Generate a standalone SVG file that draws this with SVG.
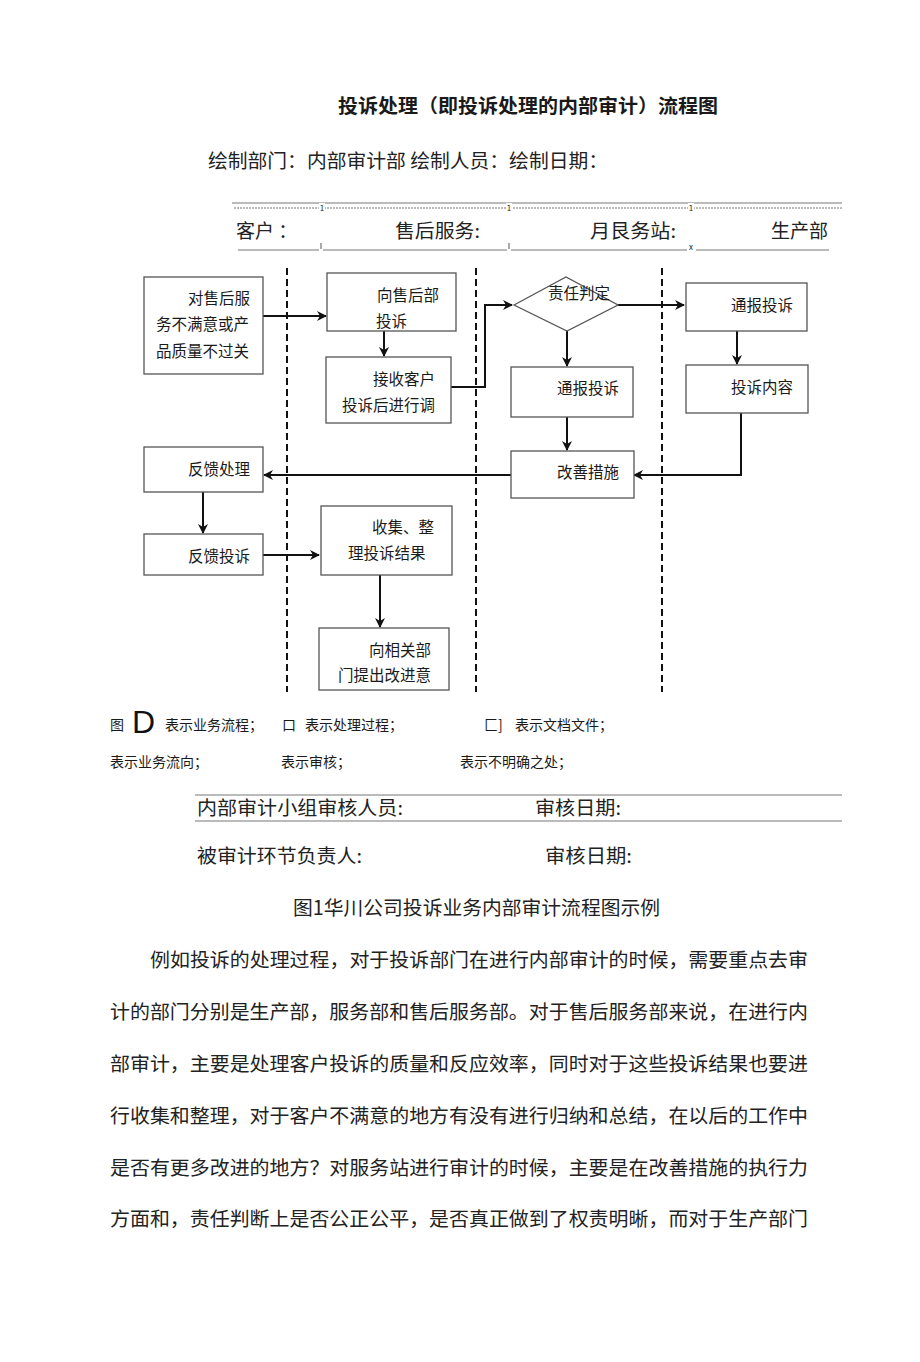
<svg xmlns="http://www.w3.org/2000/svg" width="920" height="1362" viewBox="0 0 920 1362">
<defs>
<style>
.t{font-family:"Noto Sans CJK SC","Liberation Sans",sans-serif;fill:#1a1a1a}
.s{font-family:"Noto Sans CJK SC","Liberation Serif",serif;fill:#222}
.b{font-size:15.5px}
.box{fill:#fff;stroke:#555;stroke-width:1.3}
.lane{stroke:#111;stroke-width:2;stroke-dasharray:7 4;fill:none}
.c{stroke:#111;stroke-width:2;fill:none;marker-end:url(#ah)}
.rule{stroke:#777;stroke-width:1}
.p{font-size:19.5px}
</style>
<marker id="ah" markerWidth="10" markerHeight="10" refX="9" refY="5" orient="auto" markerUnits="userSpaceOnUse">
<path d="M0,0 L10,5 L0,10 L3,5 Z" fill="#111"/>
</marker>
</defs>
<rect width="920" height="1362" fill="#fff"/>

<!-- Title -->
<text class="t" x="338" y="113" font-size="19" font-weight="bold" textLength="380" lengthAdjust="spacingAndGlyphs">投诉处理（即投诉处理的内部审计）流程图</text>
<text class="s" x="208" y="168" font-size="19" textLength="400" lengthAdjust="spacingAndGlyphs">绘制部门：内部审计部 绘制人员：绘制日期：</text>

<!-- Header lanes -->
<g id="header">
<line class="rule" x1="232" y1="203" x2="842" y2="203"/>
<line x1="234" y1="208" x2="842" y2="208" stroke="#777" stroke-width="1" stroke-dasharray="2 1"/>
<rect x="319" y="203" width="6" height="9" fill="#fff"/>
<rect x="506" y="203" width="6" height="9" fill="#fff"/>
<rect x="688" y="203" width="6" height="9" fill="#fff"/>
<text class="t" x="322" y="211" font-size="8" text-anchor="middle">1</text>
<text class="t" x="509" y="211" font-size="8" text-anchor="middle">1</text>
<text class="t" x="691" y="211" font-size="8" text-anchor="middle">1</text>
<text class="s" x="236" y="238" font-size="19">客户 ：</text>
<text class="s" x="395" y="238" font-size="19" textLength="85" lengthAdjust="spacingAndGlyphs">售后服务:</text>
<text class="s" x="590" y="238" font-size="19" textLength="86" lengthAdjust="spacingAndGlyphs">月艮务站:</text>
<text class="s" x="771" y="238" font-size="19">生产部</text>
<line class="rule" x1="238" y1="250" x2="319" y2="250"/>
<line class="rule" x1="323" y1="250" x2="507" y2="250"/>
<line class="rule" x1="511" y1="250" x2="687" y2="250"/>
<line class="rule" x1="696" y1="250" x2="829" y2="250"/>
<line x1="321" y1="243" x2="321" y2="249" stroke="#555" stroke-width="1"/>
<line x1="509" y1="243" x2="509" y2="249" stroke="#555" stroke-width="1"/>
<text class="t" x="691" y="250" font-size="8" text-anchor="middle">x</text>
</g>

<!-- Lane dividers -->
<g id="lanes">
<line class="lane" x1="287" y1="268" x2="287" y2="692"/>
<line class="lane" x1="476" y1="268" x2="476" y2="692"/>
<line class="lane" x1="662" y1="268" x2="662" y2="692"/>
</g>

<!-- Connectors -->
<g id="connectors">
<line class="c" x1="263" y1="316" x2="326" y2="316"/>
<line class="c" x1="384" y1="323" x2="384" y2="356"/>
<polyline class="c" points="445,387 485,387 485,305 512,305"/>
<line class="c" x1="618" y1="305" x2="684" y2="305"/>
<line class="c" x1="567" y1="331" x2="567" y2="366"/>
<line class="c" x1="567" y1="416" x2="567" y2="450"/>
<line class="c" x1="737" y1="331" x2="737" y2="364"/>
<polyline class="c" points="741,413 741,475 634,475"/>
<line class="c" x1="511" y1="475" x2="264" y2="475"/>
<line class="c" x1="203" y1="492" x2="203" y2="533"/>
<line class="c" x1="263" y1="555" x2="319" y2="555"/>
<line class="c" x1="380" y1="575" x2="380" y2="627"/>
</g>

<!-- Nodes -->
<g id="n1">
<rect class="box" x="144" y="277" width="119" height="97"/>
<text class="t b" x="188" y="304">对售后服</text>
<text class="t b" x="156" y="330">务不满意或产</text>
<text class="t b" x="156" y="357">品质量不过关</text>
</g>
<g id="n2">
<rect class="box" x="327" y="273" width="129" height="58"/>
<text class="t b" x="377" y="301">向售后部</text>
<text class="t b" x="376" y="327">投诉</text>
</g>
<g id="n3">
<rect class="box" x="326" y="357" width="125" height="66"/>
<text class="t b" x="373" y="385">接收客户</text>
<text class="t b" x="342" y="411">投诉后进行调</text>
</g>
<g id="n4">
<polygon points="514,305 566,277 618,305 567,331" fill="#fff" stroke="#555" stroke-width="1.3"/>
<text class="t b" x="548" y="299">责任判定</text>
</g>
<g id="n5">
<rect class="box" x="511" y="367" width="122" height="50"/>
<text class="t b" x="557" y="394">通报投诉</text>
</g>
<g id="n6">
<rect class="box" x="511" y="451" width="123" height="47"/>
<text class="t b" x="557" y="478">改善措施</text>
</g>
<g id="n7">
<rect class="box" x="686" y="283" width="121" height="48"/>
<text class="t b" x="731" y="311">通报投诉</text>
</g>
<g id="n8">
<rect class="box" x="686" y="365" width="122" height="48"/>
<text class="t b" x="731" y="393">投诉内容</text>
</g>
<g id="n9">
<rect class="box" x="144" y="447" width="119" height="45"/>
<text class="t b" x="188" y="475">反馈处理</text>
</g>
<g id="n10">
<rect class="box" x="144" y="534" width="119" height="41"/>
<text class="t b" x="188" y="562">反馈投诉</text>
</g>
<g id="n11">
<rect class="box" x="321" y="506" width="131" height="69"/>
<text class="t b" x="372" y="533">收集、整</text>
<text class="t b" x="348" y="559">理投诉结果</text>
</g>
<g id="n12">
<rect class="box" x="319" y="628" width="130" height="62"/>
<text class="t b" x="369" y="656">向相关部</text>
<text class="t b" x="338" y="681">门提出改进意</text>
</g>

<!-- Legend -->
<g id="legend">
<text class="t" x="110" y="730" font-size="14">图</text>
<text x="132" y="733" font-size="32" font-family="Liberation Sans,sans-serif" fill="#111">D</text>
<text class="t" x="165" y="730" font-size="14">表示业务流程；</text>
<text class="t" x="282" y="730" font-size="14">口</text>
<text class="t" x="305" y="730" font-size="14">表示处理过程；</text>
<text class="t" x="484" y="730" font-size="14">匚]</text>
<text class="t" x="515" y="730" font-size="14">表示文档文件；</text>
<text class="t" x="110" y="767" font-size="14">表示业务流向；</text>
<text class="t" x="281" y="767" font-size="14">表示审核；</text>
<text class="t" x="460" y="767" font-size="14">表示不明确之处；</text>
</g>

<!-- Sign-off -->
<g id="signoff">
<line class="rule" x1="195" y1="795" x2="842" y2="795"/>
<line class="rule" x1="195" y1="821" x2="842" y2="821"/>
<text class="s" x="197" y="815" font-size="19" textLength="206" lengthAdjust="spacingAndGlyphs">内部审计小组审核人员:</text>
<text class="s" x="535" y="815" font-size="19" textLength="86" lengthAdjust="spacingAndGlyphs">审核日期:</text>
<text class="s" x="197" y="863" font-size="19" textLength="165" lengthAdjust="spacingAndGlyphs">被审计环节负责人:</text>
<text class="s" x="545" y="863" font-size="19" textLength="87" lengthAdjust="spacingAndGlyphs">审核日期:</text>
</g>

<text class="s" x="293" y="915" font-size="19.5" textLength="367" lengthAdjust="spacingAndGlyphs">图1华川公司投诉业务内部审计流程图示例</text>

<g id="paragraph">
<text class="s p" x="150" y="967" textLength="658" lengthAdjust="spacingAndGlyphs">例如投诉的处理过程，对于投诉部门在进行内部审计的时候，需要重点去审</text>
<text class="s p" x="110" y="1019" textLength="698" lengthAdjust="spacingAndGlyphs">计的部门分别是生产部，服务部和售后服务部。对于售后服务部来说，在进行内</text>
<text class="s p" x="110" y="1071" textLength="698" lengthAdjust="spacingAndGlyphs">部审计，主要是处理客户投诉的质量和反应效率，同时对于这些投诉结果也要进</text>
<text class="s p" x="110" y="1123" textLength="698" lengthAdjust="spacingAndGlyphs">行收集和整理，对于客户不满意的地方有没有进行归纳和总结，在以后的工作中</text>
<text class="s p" x="110" y="1175" textLength="698" lengthAdjust="spacingAndGlyphs">是否有更多改进的地方？对服务站进行审计的时候，主要是在改善措施的执行力</text>
<text class="s p" x="110" y="1226" textLength="698" lengthAdjust="spacingAndGlyphs">方面和，责任判断上是否公正公平，是否真正做到了权责明晰，而对于生产部门</text>
</g>
</svg>
